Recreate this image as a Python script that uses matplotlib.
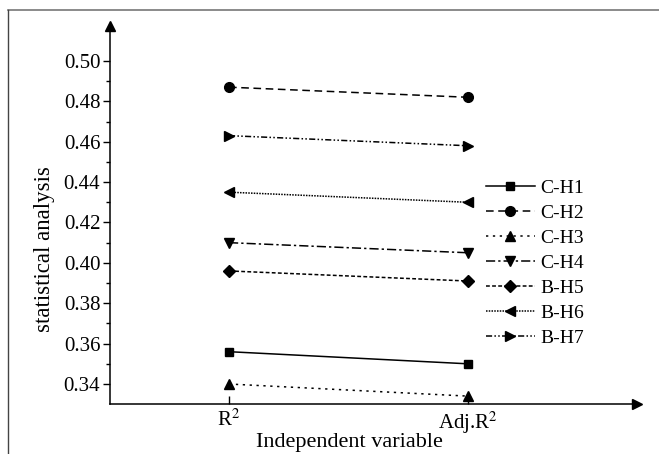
import matplotlib
matplotlib.use("Agg")
import matplotlib.pyplot as plt
from matplotlib.lines import Line2D
from matplotlib.ticker import FixedLocator

plt.rcParams['font.family'] = ['Liberation Serif', 'DejaVu Serif']
plt.rcParams['mathtext.fontset'] = 'stix'

categories = [r'R$^2$', r'Adj.R$^2$']
series_names = ['C-H1', 'C-H2', 'C-H3', 'C-H4', 'B-H5', 'B-H6', 'B-H7']
ch1 = [0.356, 0.350]
ch2 = [0.487, 0.482]
ch3 = [0.340, 0.334]
ch4 = [0.410, 0.405]
bh5 = [0.396, 0.391]
bh6 = [0.435, 0.430]
bh7 = [0.463, 0.458]
yticks = [0.34, 0.36, 0.38, 0.40, 0.42, 0.44, 0.46, 0.48, 0.50]

values = [ch1, ch2, ch3, ch4, bh5, bh6, bh7]
markers = ['s', 'o', '^', 'v', 'D', '<', '>']
msizes = [6, 7, 7, 7, 6, 7, 7]
styles = ['-', (0, (5, 3)), (0, (1.5, 3)), (0, (6, 2, 1.5, 2)),
          (0, (2.5, 1.5)), (0, (1, 0.8)), (0, (4, 1.5, 1, 1.5, 1, 1.5))]

fig = plt.figure(figsize=(6.59, 4.54), dpi=100)
ax = fig.add_axes([110/659, 1-404/454, (637-110)/659, (404-26)/454])

x = list(range(len(categories)))
for name, v, m, ms, ls in zip(series_names, values, markers, msizes, styles):
    ax.plot(x, v, color='black', linestyle=ls, linewidth=1.1, marker=m,
            markersize=ms, label=name)

ax.set_xlim(-0.498, 1.707)
ax.set_ylim(0.3301, 0.5173)
ax.set_xticks(x)
ax.set_xticklabels(categories, fontsize=15)
ax.set_yticks(yticks)
ax.set_yticklabels([f'{t:.2f}' for t in yticks], fontsize=15)
ax.yaxis.set_minor_locator(FixedLocator([0.35, 0.37, 0.39, 0.41, 0.43, 0.45, 0.47, 0.49]))
ax.tick_params(axis='y', which='major', direction='out', length=5, width=1, pad=2)
ax.tick_params(axis='y', which='minor', direction='out', length=3, width=1)
ax.tick_params(axis='x', which='major', direction='in', length=6, width=1, pad=4)

for s in ['top', 'right']:
    ax.spines[s].set_visible(False)
for s in ['left', 'bottom']:
    ax.spines[s].set_linewidth(1.1)

ax.plot(1, 0, marker='>', color='black', markersize=7, transform=ax.transAxes, clip_on=False)
ax.plot(0, 1, marker='^', color='black', markersize=7, transform=ax.transAxes, clip_on=False)

ax.set_ylabel('statistical analysis', fontsize=16.5)
ax.yaxis.set_label_coords(-0.105, 0.41)
ax.set_xlabel('Independent variable', fontsize=16)
ax.xaxis.set_label_coords(0.4535, -0.077)

leg = ax.legend(loc='upper left', bbox_to_anchor=(486/659, 1-179/454),
                bbox_transform=fig.transFigure, frameon=False, fontsize=14,
                handlelength=2.5, handletextpad=0.3, labelspacing=0.38,
                borderpad=0, borderaxespad=0)

fig.add_artist(Line2D([8/659, 1], [1-9.5/454, 1-9.5/454], color='#777777', linewidth=1.2,
                      transform=fig.transFigure))
fig.add_artist(Line2D([8/659, 8/659], [0, 1-9.5/454], color='#444444', linewidth=1.0,
                      transform=fig.transFigure))

fig.savefig('out.png', dpi=100)
